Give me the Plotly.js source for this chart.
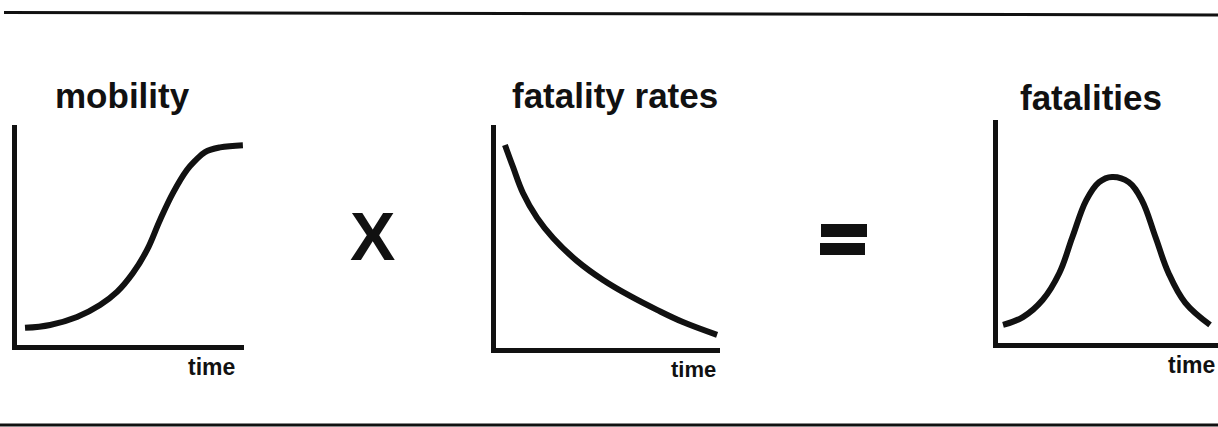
<!DOCTYPE html>
<html>
<head>
<meta charset="utf-8">
<script src="https://cdn.plot.ly/plotly-3.0.1.min.js"></script>
<style>html,body{margin:0;padding:0;background:#fff;}#chart{width:1218px;height:427px;}</style>
</head>
<body>
<div id="chart"></div>
<script>
// ---- data (arbitrary units 0-100) ----
var panelTitles = ["mobility", "fatality rates", "fatalities"];
var axisLabel = "time";
var operators = ["X", "="];

var mobilityX = [4.9, 16.1, 28.1, 38.4, 46.0, 53.1, 59.4, 65.2, 71.0, 77.2, 80.8, 85.3, 92.0, 102.2];
var mobilityY = [8.6, 9.9, 13.5, 18.9, 24.8, 33.3, 43.7, 57.2, 69.4, 79.7, 83.8, 87.8, 89.9, 90.9];

var fatalityRateX = [5.3, 8.9, 13.3, 19.6, 26.7, 37.3, 48.9, 60.9, 72.9, 84.4, 99.6];
var fatalityRateY = [91.1, 81.3, 69.8, 58.7, 49.8, 39.6, 31.1, 24.0, 17.8, 12.4, 6.7];

var fatalitiesX = [3.6, 12.6, 21.5, 29.1, 35.0, 41.3, 47.1, 52.9, 60.5, 66.4, 72.6, 78.5, 86.1, 97.3];
var fatalitiesY = [8.9, 12.4, 20.0, 32.0, 48.0, 64.4, 72.4, 74.7, 72.4, 64.4, 48.0, 32.0, 18.7, 8.9];

// ---- layout helpers (pixel -> paper) ----
var W = 1218, H = 427;
function fx(px) { return px / W; }
function fy(py) { return (H - py) / H; }

var ink = "#111111";
var FONT = "Liberation Sans, Arial, Helvetica, sans-serif";

function curve(x, y, xa, ya) {
  return {
    x: x, y: y, xaxis: xa, yaxis: ya,
    type: "scatter", mode: "lines",
    line: { color: ink, width: 6, shape: "spline", smoothing: 1.1 },
    hoverinfo: "skip"
  };
}

var traces = [
  curve(mobilityX, mobilityY, "x", "y"),
  curve(fatalityRateX, fatalityRateY, "x2", "y2"),
  curve(fatalitiesX, fatalitiesY, "x3", "y3")
];

function ax(domain, range, anchor) {
  return {
    domain: domain, range: range, anchor: anchor,
    showline: true, linewidth: 5, linecolor: ink,
    showgrid: false, zeroline: false, showticklabels: false,
    ticks: "", fixedrange: true
  };
}

function label(text, cx, cy, size) {
  return {
    text: "<b>" + text + "</b>", xref: "paper", yref: "paper",
    x: fx(cx), y: fy(cy), xanchor: "center", yanchor: "middle",
    showarrow: false, font: { family: FONT, size: size, color: ink }
  };
}

var layout = {
  width: W, height: H,
  margin: { l: 0, r: 0, t: 0, b: 0, pad: 0 },
  paper_bgcolor: "#ffffff", plot_bgcolor: "rgba(0,0,0,0)",
  showlegend: false,
  xaxis:  ax([fx(16.5), fx(244)], [1.1, 102.7], "y"),
  yaxis:  ax([fy(344.5), fy(125)], [1.1, 100], "x"),
  xaxis2: ax([fx(495.5), fx(720)], [1.1, 100.9], "y2"),
  yaxis2: ax([fy(347.5), fy(125)], [1.1, 100], "x2"),
  xaxis3: ax([fx(997.5), 1], [1.1, 100.9], "y3"),
  yaxis3: ax([fy(342.5), fy(120)], [1.1, 100], "x3"),
  annotations: [
    label(panelTitles[0], 122, 95, 35),
    label(panelTitles[1], 615, 95, 35),
    label(panelTitles[2], 1091, 97, 35),
    label(axisLabel, 211, 367, 23),
    label(axisLabel, 693, 369, 22),
    label(axisLabel, 1191, 365, 23),
    label(operators[0], 372, 236, 68)
  ],
  shapes: [
    // top and bottom rules
    { type: "line", xref: "paper", yref: "paper", x0: fx(4), y0: fy(12.5), x1: 1, y1: fy(15),
      line: { color: ink, width: 3 } },
    { type: "line", xref: "paper", yref: "paper", x0: 0, y0: fy(425), x1: 1, y1: fy(425),
      line: { color: ink, width: 3 } },
    // "=" sign bars
    { type: "rect", xref: "paper", yref: "paper", x0: fx(821), x1: fx(867), y0: fy(237), y1: fy(224),
      fillcolor: ink, line: { width: 0 } },
    { type: "rect", xref: "paper", yref: "paper", x0: fx(820), x1: fx(865), y0: fy(255), y1: fy(243),
      fillcolor: ink, line: { width: 0 } }
  ]
};

Plotly.newPlot("chart", traces, layout, { displayModeBar: false, staticPlot: true });
</script>
</body>
</html>
